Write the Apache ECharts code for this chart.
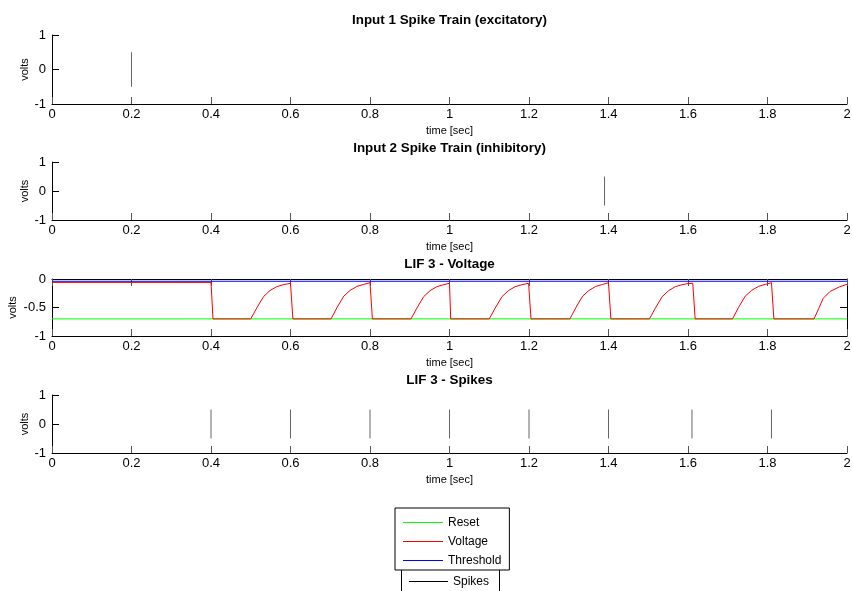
<!DOCTYPE html>
<html><head><meta charset="utf-8">
<script src="https://cdn.jsdelivr.net/npm/echarts@6/dist/echarts.min.js"></script>
<style>html,body{margin:0;padding:0;background:#fff}#c{width:852px;height:591px}</style>
</head><body><div id="c"></div>
<script>
// ---------------- data ----------------
const timeMin = 0, timeMax = 2, timeStep = 0.2;
const titles = ['Input 1 Spike Train (excitatory)', 'Input 2 Spike Train (inhibitory)', 'LIF 3 - Voltage', 'LIF 3 - Spikes'];
const xName = 'time [sec]';
const yName = 'volts';
const input1Spikes = [0.2];
const input2Spikes = [1.39];
const lif3Spikes = [0.40, 0.60, 0.80, 1.00, 1.20, 1.40, 1.61, 1.81];
const spikeBottom = -0.5, spikeTop = 0.5;
const resetLevel = -0.7;
const thresholdLevel = -0.04;
const voltageTime = [
  0.000, 0.400, 0.405,
  0.500, 0.515, 0.532, 0.548, 0.565, 0.582, 0.600, 0.602, 0.606,
  0.702, 0.717, 0.734, 0.750, 0.767, 0.784, 0.800, 0.802, 0.806,
  0.903, 0.918, 0.935, 0.951, 0.968, 0.985, 1.000, 1.003,
  1.100, 1.115, 1.132, 1.148, 1.165, 1.182, 1.199, 1.201, 1.205,
  1.303, 1.318, 1.335, 1.351, 1.368, 1.385, 1.400, 1.402, 1.406,
  1.503, 1.518, 1.535, 1.551, 1.568, 1.585, 1.600, 1.612, 1.618,
  1.712, 1.727, 1.744, 1.760, 1.777, 1.794, 1.810, 1.812, 1.816,
  1.917, 1.930, 1.940, 1.957, 1.982, 2.000
];
const voltageValue = [
  -0.06, -0.06, -0.70,
  -0.70, -0.51, -0.31, -0.205, -0.135, -0.10, -0.075, -0.07, -0.70,
  -0.70, -0.50, -0.30, -0.20, -0.13, -0.095, -0.065, -0.06, -0.70,
  -0.70, -0.51, -0.31, -0.205, -0.135, -0.10, -0.075, -0.70,
  -0.70, -0.51, -0.31, -0.205, -0.135, -0.10, -0.075, -0.07, -0.70,
  -0.70, -0.50, -0.30, -0.20, -0.13, -0.095, -0.065, -0.06, -0.70,
  -0.70, -0.51, -0.31, -0.205, -0.135, -0.10, -0.08, -0.075, -0.70,
  -0.70, -0.50, -0.30, -0.20, -0.13, -0.095, -0.065, -0.06, -0.70,
  -0.70, -0.50, -0.34, -0.22, -0.135, -0.093
];
const legendNames = ['Reset', 'Voltage', 'Threshold'];
const spikeLegendName = 'Spikes';

// ---------------- chart ----------------
const F = '"Liberation Sans", Arial, Helvetica, sans-serif';
const COLORS = {Reset: '#00ff00', Voltage: '#ff0000', Threshold: '#0000ff'};
const G = {left: 52, width: 795, outerBoundsMode: 'none', containLabel: false};
const grids = [
  Object.assign({top: 35, height: 69}, G),
  Object.assign({top: 162, height: 58}, G),
  Object.assign({top: 279, height: 57}, G),
  Object.assign({top: 395, height: 58}, G)
];
const titleY = [20, 148, 264, 380];
// 1px-thick bar; the empty sub-path widens its bounding box so the bar lands on a whole pixel row
const lineIcon = 'path://M0,0L40,0L40,1L0,1ZM0,2L0,2';

function spikeData(times) {
  const d = [];
  times.forEach(t => { d.push([t, spikeBottom], [t, spikeTop], [t, '-']); });
  return d;
}
function xAx(gi, extra) {
  return Object.assign({
    type: 'value', gridIndex: gi, min: timeMin, max: timeMax, interval: timeStep,
    axisLine: {show: true, onZero: false, lineStyle: {color: '#000', width: 1}},
    axisTick: {show: true, inside: true, length: 7, lineStyle: {color: '#555'}},
    axisLabel: {show: true, margin: 4, color: '#000', fontSize: 13, fontFamily: F},
    splitLine: {show: false},
    name: xName, nameLocation: 'middle', nameGap: 21, nameMoveOverlap: false,
    nameTextStyle: {fontSize: 11, color: '#000', fontFamily: F}
  }, extra || {});
}
function yAx(gi, min, max, interval, gap, extra) {
  return Object.assign({
    type: 'value', gridIndex: gi, min: min, max: max, interval: interval,
    axisLine: {show: true, onZero: false, lineStyle: {color: '#000', width: 1}},
    axisTick: {show: true, inside: true, length: 7, lineStyle: {color: '#000'}},
    axisLabel: {show: true, margin: 6, color: '#000', fontSize: 13, fontFamily: F},
    splitLine: {show: false},
    name: yName, nameLocation: 'middle', nameGap: gap, nameRotate: 90, nameMoveOverlap: false,
    nameTextStyle: {fontSize: 11, color: '#000', fontFamily: F}
  }, extra || {});
}
function lineSeries(name, xi, yi, data, color) {
  return {
    type: 'line', name: name, xAxisIndex: xi, yAxisIndex: yi, data: data,
    symbol: 'none', showSymbol: false, connectNulls: false, animation: false,
    color: color, itemStyle: {color: color}, lineStyle: {color: color, width: 1}, silent: true
  };
}

const chart = echarts.init(document.getElementById('c'), null, {renderer: 'canvas'});
const option = {
  animation: false,
  backgroundColor: '#fff',
  title: titles.map((t, i) => ({
    text: t, left: 449.5, top: titleY[i], textAlign: 'center', textVerticalAlign: 'middle', padding: 0,
    textStyle: {fontSize: 13.4, fontWeight: 'bold', color: '#000', fontFamily: F}
  })),
  grid: grids,
  xAxis: [
    xAx(0), xAx(1), xAx(2),
    xAx(2, {position: 'top', name: '', axisLabel: {show: false}}),
    xAx(3)
  ],
  yAxis: [
    yAx(0, -1, 1, 1, 22),
    yAx(1, -1, 1, 1, 22),
    yAx(2, -1, 0, 0.5, 34),
    yAx(2, -1, 0, 0.5, 0, {position: 'right', name: '', axisLabel: {show: false}}),
    yAx(3, -1, 1, 1, 22)
  ],
  legend: [{
    data: legendNames.map(n => ({name: n, itemStyle: {color: COLORS[n]}})),
    orient: 'vertical', left: 395, top: 508,
    padding: [9, 8, 3, 8], itemWidth: 40, itemHeight: 12, itemGap: 7,
    icon: lineIcon, symbolKeepAspect: true,
    borderColor: '#000', borderWidth: 1, backgroundColor: '#fff', borderRadius: 0,
    selectedMode: false,
    textStyle: {fontSize: 12, color: '#000', fontFamily: F}
  }, {
    data: [{name: spikeLegendName, itemStyle: {color: '#000'}}],
    orient: 'vertical', left: 409, top: 576, padding: 0, itemWidth: 39, itemHeight: 12,
    icon: lineIcon, symbolKeepAspect: true,
    selectedMode: false,
    textStyle: {fontSize: 12, color: '#000', fontFamily: F}
  }],
  graphic: [
    {type: 'line', shape: {x1: 401.5, y1: 570, x2: 401.5, y2: 591}, style: {stroke: '#000', lineWidth: 1}},
    {type: 'line', shape: {x1: 499.5, y1: 570, x2: 499.5, y2: 591}, style: {stroke: '#000', lineWidth: 1}}
  ],
  series: [
    lineSeries('Input 1', 0, 0, spikeData(input1Spikes), '#666'),
    lineSeries('Input 2', 1, 1, spikeData(input2Spikes), '#666'),
    lineSeries('Reset', 2, 2, [[timeMin, resetLevel], [timeMax, resetLevel]], COLORS.Reset),
    lineSeries('Voltage', 2, 2, voltageTime.map((t, i) => [t, voltageValue[i]]), COLORS.Voltage),
    lineSeries('Threshold', 2, 2, [[timeMin, thresholdLevel], [timeMax, thresholdLevel]], COLORS.Threshold),
    lineSeries(spikeLegendName, 4, 4, spikeData(lif3Spikes), '#666')
  ]
};
chart.setOption(option);
</script>
</body></html>
